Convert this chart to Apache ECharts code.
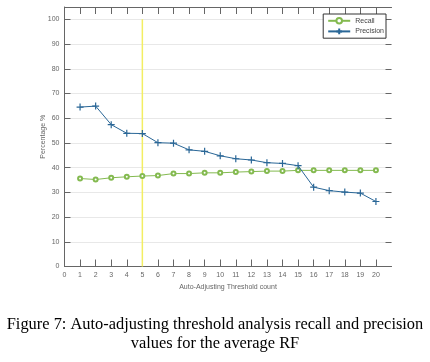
<!DOCTYPE html>
<html>
<head>
<meta charset="utf-8">
<script src="https://cdn.jsdelivr.net/npm/echarts@6/dist/echarts.min.js"></script>
<style>
  html, body { margin: 0; padding: 0; background: #fff; }
  #chart { width: 430px; height: 362px; }
</style>
</head>
<body>
<div id="chart"></div>
<script>
// threshold counts on the x axis
var thresholds = [1, 2, 3, 4, 5, 6, 7, 8, 9, 10, 11, 12, 13, 14, 15, 16, 17, 18, 19, 20];
var recall = [35.6, 35.2, 35.9, 36.3, 36.6, 36.8, 37.6, 37.6, 37.9, 37.9, 38.2, 38.4, 38.6, 38.6, 38.9, 38.9, 38.9, 38.9, 38.9, 38.9];
var precision = [64.5, 64.9, 57.4, 53.9, 53.8, 50.1, 49.9, 47.2, 46.6, 44.8, 43.6, 43.1, 42.0, 41.7, 40.8, 32.1, 30.7, 30.1, 29.7, 26.3];
// chosen threshold marker (vertical line)
var markerX = 5;
var markerY = [0, 100];
var xTicks = [0, 1, 2, 3, 4, 5, 6, 7, 8, 9, 10, 11, 12, 13, 14, 15, 16, 17, 18, 19, 20];

var green = '#84ba50';
var blue = '#2a6797';
var plusPath = 'path://M0,5L10,5M5,0L5,10';
var labelFont = 'Liberation Sans';

var chart = echarts.init(document.getElementById('chart'));

function pairs (xs, ys) {
  var out = [];
  for (var i = 0; i < xs.length; i++) {
    out.push([xs[i], ys[i]]);
  }
  return out;
}

var option = {
  animation: false,
  backgroundColor: '#fff',
  title: {
    text: 'Figure 7: Auto-adjusting threshold analysis recall and precision\nvalues for the average RF',
    left: 'center',
    top: 310,
    textStyle: {
      fontFamily: 'Liberation Serif',
      fontWeight: 'normal',
      fontSize: 16.4,
      lineHeight: 19,
      color: '#000',
      align: 'center'
    }
  },
  legend: {
    orient: 'vertical',
    right: 44,
    top: 14,
    itemWidth: 22,
    itemHeight: 7,
    itemGap: 3,
    padding: [3, 2, 3, 4],
    borderColor: '#333',
    borderWidth: 1,
    backgroundColor: '#fff',
    textStyle: { fontSize: 7, color: '#444', fontFamily: labelFont },
    data: ['Recall', 'Precision']
  },
  grid: { left: 64.5, right: 38.5, top: 7, bottom: 95.5 },
  xAxis: [{
    type: 'value',
    min: 0,
    max: 21,
    interval: 1,
    name: 'Auto-Adjusting Threshold count',
    nameLocation: 'middle',
    nameGap: 12,
    nameTextStyle: { fontSize: 7, color: '#666', fontFamily: labelFont },
    axisLine: { onZero: false, lineStyle: { color: '#666', width: 1 } },
    axisTick: { inside: true, length: 7, customValues: xTicks, lineStyle: { color: '#666' } },
    axisLabel: {
      fontSize: 7, color: '#666', fontFamily: labelFont, margin: 5,
      formatter: function (v) { return v > 20 ? '' : String(v); }
    },
    splitLine: { show: false }
  }, {
    type: 'value',
    position: 'top',
    min: 0,
    max: 21,
    interval: 1,
    axisLine: { show: true, onZero: false, lineStyle: { color: '#666', width: 1 } },
    axisTick: { show: true, inside: true, length: 7, customValues: xTicks, lineStyle: { color: '#666' } },
    axisLabel: { show: false },
    splitLine: { show: false }
  }],
  yAxis: [{
    type: 'value',
    min: 0,
    max: 105,
    interval: 10,
    name: 'Percentage %',
    nameLocation: 'middle',
    nameGap: 18,
    nameMoveOverlap: false,
    nameTextStyle: { fontSize: 7, color: '#666', fontFamily: labelFont },
    axisLine: { show: true, onZero: false, lineStyle: { color: '#666', width: 1 } },
    axisTick: { show: true, inside: true, length: 6, lineStyle: { color: '#666' } },
    axisLabel: {
      fontSize: 7, color: '#666', fontFamily: labelFont, margin: 5,
      formatter: function (v) { return v > 100 ? '' : String(v); }
    },
    splitLine: { show: true, lineStyle: { color: '#e8e8e8', width: 1 } }
  }, {
    type: 'value',
    position: 'right',
    min: 0,
    max: 105,
    interval: 10,
    axisLine: { show: false, onZero: false },
    axisTick: { show: true, inside: true, length: 6, lineStyle: { color: '#666' } },
    axisLabel: { show: false },
    splitLine: { show: false }
  }],
  series: [{
    name: 'marker',
    type: 'line',
    data: [[markerX, markerY[0]], [markerX, markerY[1]]],
    symbol: 'none',
    lineStyle: { color: '#f3ee62', width: 1.5 },
    silent: true,
    z: 1
  }, {
    name: 'Recall',
    type: 'line',
    data: pairs(thresholds, recall),
    symbol: 'emptyCircle',
    symbolSize: 4,
    color: green,
    lineStyle: { color: green, width: 1 },
    itemStyle: { color: green, borderWidth: 1 },
    z: 3
  }, {
    name: 'Precision',
    type: 'line',
    data: pairs(thresholds, precision),
    symbol: plusPath,
    symbolSize: 7,
    color: blue,
    lineStyle: { color: blue, width: 1 },
    itemStyle: { color: blue, borderColor: blue, borderWidth: 1.2 },
    z: 4
  }]
};

chart.setOption(option);
</script>
</body>
</html>
